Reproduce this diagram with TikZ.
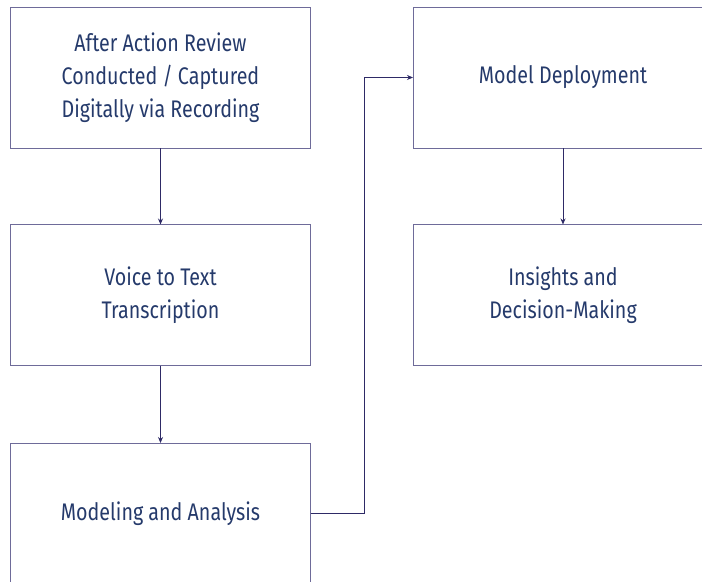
\documentclass[tikz,border=0pt]{standalone}
\usepackage{fontspec}
\setmainfont[FakeStretch=0.82]{Fira Sans}
\usetikzlibrary{shapes,arrows,arrows.meta,positioning,calc}

\definecolor{boxline}{HTML}{6E6B99}
\definecolor{linknavy}{HTML}{2E2A66}
\definecolor{textnavy}{HTML}{253A6B}

\begin{document}
\begin{tikzpicture}[x=1bp, y=-1bp,
    block/.style={draw=boxline, line width=0.9bp, minimum width=300bp, minimum height=141bp, inner sep=0pt, outer sep=0pt,
        align=center, text=textnavy, font=\fontsize{24bp}{33bp}\selectfont},
    arrow/.style={draw=linknavy, line width=0.9bp, -{Stealth[length=6bp,width=5bp]}}]

        \clip (0,0) rectangle (702,582);

        % left column
        \node [block] (review) at (160.5,77.5) {After Action Review\\Conducted / Captured\\Digitally via Recording};
        \node [block] (voice) at (160.5,295) {Voice to Text\\Transcription};
        \node [block] (model) at (160.5,513.5) {Modeling and Analysis};

        % right column
        \node [block] (deploy) at (563,77.5) {Model Deployment};
        \node [block] (insight) at (563,295) {Insights and\\Decision-Making};

        % Arrows
        \draw [arrow] (review) -- (voice);
        \draw [arrow] (voice) -- (model);
        \draw [arrow] (model.east) -- ++(54,0) |- (deploy.west);
        \draw [arrow] (deploy) -- (insight);

    \end{tikzpicture}
\end{document}
